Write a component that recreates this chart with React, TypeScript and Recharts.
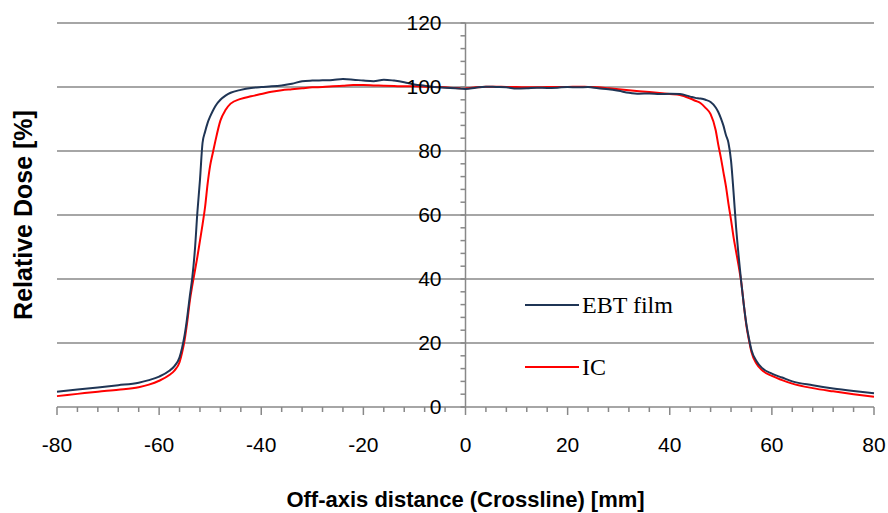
import React from 'react';
import { LineChart, Line, XAxis, YAxis, ReferenceLine, Legend } from 'recharts';

// Off-axis distance [mm]
const distances = [
  -80, -76, -72, -68, -64, -62, -60, -58, -57, -56,
  -55.5, -55, -54.5, -54, -53.5, -53, -52.5, -52, -51.5, -51,
  -50.5, -50, -49.5, -49, -48, -47, -46, -44, -42, -40,
  -38, -36, -34, -32, -30, -28, -26, -24, -22, -20,
  -18, -16, -14, -12, -10, -8, -6, -4, -2, 0,
  2, 4, 6, 8, 10, 12, 14, 16, 18, 20,
  22, 24, 26, 28, 30, 32, 34, 36, 38, 40,
  42, 44, 45, 46, 47, 48, 49, 49.5, 50, 50.5,
  51, 51.5, 52, 52.5, 53, 53.5, 54, 54.5, 55, 55.5,
  56, 57, 58, 60, 62, 64, 68, 72, 76, 80,
];

// Relative dose [%] - EBT film
const ebtFilm = [
  4.8, 5.5, 6.1, 6.8, 7.6, 8.4, 9.5, 11.3, 12.8, 15.5,
  18.5, 22.5, 28, 34.5, 40.5, 49, 61, 71, 82.5, 86,
  88.8, 90.8, 92.5, 94, 96, 97.3, 98.2, 99.1, 99.7, 100.0,
  100.2, 100.5, 101.0, 101.8, 102.0, 102.1, 102.2, 102.5, 102.3, 102.0,
  101.8, 102.3, 102.0, 101.5, 100.8, 100.4, 100.0, 99.8, 99.6, 99.4,
  99.8, 100.1, 100.0, 99.9, 99.5, 99.6, 99.8, 99.7, 99.8, 100.0,
  99.9, 100.0, 99.6, 99.3, 98.8, 98.2, 97.9, 98.0, 97.8, 97.9,
  97.8, 97.0, 96.6, 96.4, 96.0, 95.3, 93.6, 92.2, 90.3, 88.0,
  85.0, 82.5, 77, 67, 56, 47, 39, 32, 26, 21.5,
  17.8, 14.3, 12.3, 10.4, 9.2, 8.0, 6.8, 5.8, 5.0, 4.3,
];

// Relative dose [%] - IC
const ionChamber = [
  3.4, 4.1, 4.8, 5.4, 6.2, 7.0, 8.2, 10.0, 11.4, 14.0,
  17.0, 21.0, 26.5, 33, 38, 42.5, 47, 52, 57, 62.5,
  69.8, 75.5, 79.3, 83, 89.5, 92.8, 94.8, 96.3, 97.1, 97.8,
  98.5, 99.0, 99.3, 99.6, 99.9, 100.0, 100.2, 100.4, 100.6, 100.6,
  100.5, 100.4, 100.3, 100.2, 100.2, 100.1, 100.0, 99.9, 99.7, 99.6,
  99.9, 100.1, 100.1, 100.0, 100.0, 99.9, 99.9, 100.0, 100.0, 100.0,
  100.1, 100.0, 99.9, 99.6, 99.3, 99.0, 98.7, 98.4, 98.1, 97.8,
  97.5, 96.4, 95.7, 95.0, 93.5, 91.5, 86.5, 82, 78, 73.5,
  69, 63.5, 58.5, 53, 48.5, 44, 39, 32, 25.5, 21,
  17.2, 13.5, 11.6, 9.7, 8.4, 7.3, 5.9, 4.9, 4.0, 3.2,
];

const seriesNames = ['EBT film', 'IC'];
const seriesColors = ['#1f3555', '#ff0000'];

const xMajorTicks = [-80, -60, -40, -20, 0, 20, 40, 60, 80];
const yMajorTicks = [0, 20, 40, 60, 80, 100, 120];
const xMinorTicks = [
  -80, -76, -72, -68, -64, -60, -56, -52, -48, -44, -40, -36, -32, -28, -24, -20, -16, -12, -8, -4,
  0, 4, 8, 12, 16, 20, 24, 28, 32, 36, 40, 44, 48, 52, 56, 60, 64, 68, 72, 76, 80,
];
const yMinorTicks = [
  0, 4, 8, 12, 16, 20, 24, 28, 32, 36, 40, 44, 48, 52, 56, 60, 64, 68, 72, 76, 80,
  84, 88, 92, 96, 100, 104, 108, 112, 116, 120,
];

const xTitle = 'Off-axis distance (Crossline) [mm]';
const yTitle = 'Relative Dose [%]';

const data = distances.map((d, i) => ({ d, ebt: ebtFilm[i], ic: ionChamber[i] }));

const W = 888;
const H = 513;
const MARGIN = { top: 23, right: 14, bottom: 0, left: 56 };
const Y_AXIS_W = 1;
const X_AXIS_H = 106;
const PLOT_LEFT = MARGIN.left + Y_AXIS_W;
const PLOT_W = W - PLOT_LEFT - MARGIN.right;
const PLOT_H = H - MARGIN.top - X_AXIS_H;
const X0 = PLOT_LEFT + PLOT_W / 2;
const AXIS_COLOR = '#888888';
const SANS = "'Liberation Sans', Arial, sans-serif";

const XTick = (props: any) => {
  const { x, y, payload } = props;
  const v = payload.value;
  const major = xMajorTicks.includes(v);
  return (
    <g>
      <line x1={x} x2={x} y1={y} y2={y + (major ? 8 : 5)} stroke={AXIS_COLOR} strokeWidth={1.5} />
      {major && (
        <text x={x} y={y + 45} textAnchor="middle" fontFamily={SANS} fontSize={21} fill="#000">
          {v}
        </text>
      )}
    </g>
  );
};

const YTick = (props: any) => {
  const { y, payload } = props;
  const v = payload.value;
  const major = yMajorTicks.includes(v);
  return (
    <g>
      <line x1={X0 - 5} x2={X0} y1={y} y2={y} stroke={AXIS_COLOR} strokeWidth={1.5} />
      {major && (
        <text x={X0 - 24} y={y + 7} textAnchor="end" fontFamily={SANS} fontSize={21} fill="#000">
          {v}
        </text>
      )}
    </g>
  );
};

const renderLegend = (props: any) => {
  const items = [...(props.payload || [])].sort(
    (a: any, b: any) => seriesNames.indexOf(a.value) - seriesNames.indexOf(b.value)
  );
  return (
    <div style={{ fontFamily: "'Liberation Serif', 'Times New Roman', serif", fontSize: 24, color: '#000' }}>
      {items.map((item: any, i: number) => (
        <div
          key={item.value}
          style={{ display: 'flex', alignItems: 'center', height: 30, marginBottom: i === 0 ? 32 : 0 }}
        >
          <svg width={54} height={4} style={{ display: 'block' }}>
            <line x1={0} x2={54} y1={2} y2={2} stroke={item.color} strokeWidth={2} />
          </svg>
          <span style={{ marginLeft: 3, lineHeight: '30px' }}>{item.value}</span>
        </div>
      ))}
    </div>
  );
};

export default function App() {
  return (
    <div style={{ position: 'absolute', left: 0, top: 0, width: W, height: H, background: '#fff' }}>
      <LineChart width={W} height={H} data={data} margin={MARGIN}>
        <XAxis
          dataKey="d"
          type="number"
          domain={[-80, 80]}
          ticks={xMinorTicks}
          interval={0}
          height={X_AXIS_H}
          tickSize={0}
          tickMargin={0}
          tickLine={false}
          axisLine={{ stroke: AXIS_COLOR, strokeWidth: 1.5 }}
          tick={(p: any) => <XTick {...p} />}
          label={{
            content: () => (
              <text
                x={X0}
                y={MARGIN.top + PLOT_H + 100}
                textAnchor="middle"
                fontFamily={SANS}
                fontWeight="bold"
                fontSize={22}
                fill="#000"
              >
                {xTitle}
              </text>
            ),
          }}
        />
        <YAxis
          type="number"
          domain={[0, 120]}
          ticks={yMinorTicks}
          interval={0}
          width={Y_AXIS_W}
          tickSize={0}
          tickMargin={0}
          tickLine={false}
          axisLine={false}
          tick={(p: any) => <YTick {...p} />}
          label={{
            content: () => (
              <text
                x={32}
                y={MARGIN.top + PLOT_H / 2}
                transform={`rotate(-90, 32, ${MARGIN.top + PLOT_H / 2})`}
                textAnchor="middle"
                fontFamily={SANS}
                fontWeight="bold"
                fontSize={25}
                fill="#000"
              >
                {yTitle}
              </text>
            ),
          }}
        />
        {yMajorTicks
          .filter((v) => v > 0)
          .map((v) => (
            <ReferenceLine key={v} y={v} stroke={AXIS_COLOR} strokeWidth={1.5} ifOverflow="extendDomain" />
          ))}
        <ReferenceLine x={0} stroke={AXIS_COLOR} strokeWidth={1.5} />
        <Legend
          content={renderLegend}
          layout="vertical"
          align="center"
          verticalAlign="middle"
          wrapperStyle={{ position: 'absolute', left: 525, top: 290, width: 200, height: 100 }}
        />
        <Line
          type="monotone"
          dataKey="ic"
          name={seriesNames[1]}
          stroke={seriesColors[1]}
          strokeWidth={2}
          dot={false}
          activeDot={false}
          isAnimationActive={false}
        />
        <Line
          type="monotone"
          dataKey="ebt"
          name={seriesNames[0]}
          stroke={seriesColors[0]}
          strokeWidth={2}
          dot={false}
          activeDot={false}
          isAnimationActive={false}
        />
      </LineChart>
    </div>
  );
}
